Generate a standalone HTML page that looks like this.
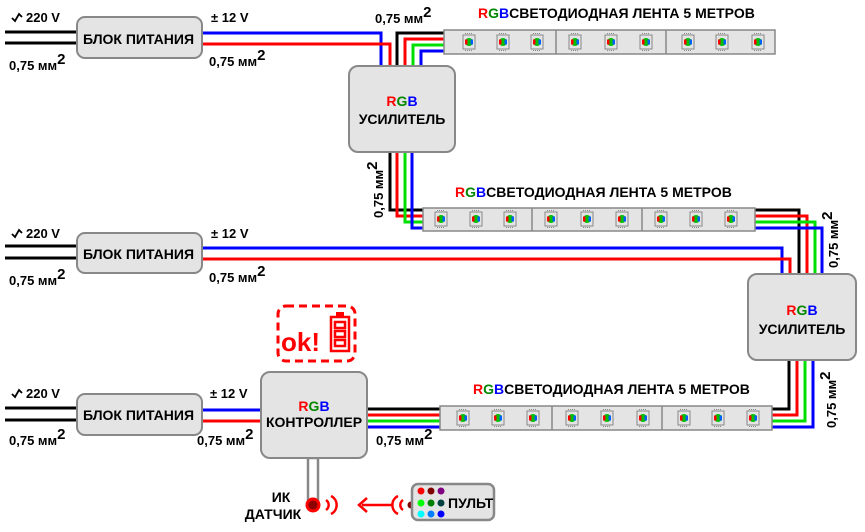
<!DOCTYPE html>
<html><head><meta charset="utf-8"><style>
html,body{margin:0;padding:0;background:#fff;width:865px;height:532px;overflow:hidden}
svg{display:block}
text{font-family:"Liberation Sans","DejaVu Sans",sans-serif;font-weight:bold;fill:#000}
</style></head><body>
<svg width="865" height="532" viewBox="0 0 865 532" xmlns="http://www.w3.org/2000/svg">
<defs>
<g id="led">
 <rect x="-6" y="-7" width="12" height="14" fill="#e4e4e4" stroke="#888" stroke-width="1"/>
 <line x1="-4" y1="-8.5" x2="4" y2="-8.5" stroke="#888" stroke-dasharray="1,1"/>
 <line x1="-4" y1="8.5" x2="4" y2="8.5" stroke="#888" stroke-dasharray="1,1"/>
 <circle cx="0" cy="0" r="4" fill="#00c000"/>
 <rect x="-4" y="-2.5" width="2.5" height="5" fill="#ff0000"/>
 <rect x="1.5" y="-2.5" width="2.5" height="5" fill="#0060ff"/>
</g>
<path id="sine" d="M0,6 L3,9 L7,2 L10,5" fill="none" stroke="#000" stroke-width="1.8"/>
</defs>

<g fill="none" stroke-width="3">
<line x1="5" y1="32" x2="77" y2="32" stroke="#000"/>
<line x1="5" y1="43" x2="77" y2="43" stroke="#000"/>
<polyline points="202,33 381,33 381,66" stroke="#0000ff"/>
<polyline points="202,44 390,44 390,66" stroke="#ff0000"/>
<polyline points="397,66 397,33 445,33" stroke="#000"/>
<polyline points="405,66 405,39 445,39" stroke="#ff0000"/>
<polyline points="413,66 413,45 445,45" stroke="#00e000"/>
<polyline points="421,66 421,51 445,51" stroke="#0000ff"/>
<polyline points="390,152 390,210 424,210" stroke="#000"/>
<polyline points="397,152 397,216 424,216" stroke="#ff0000"/>
<polyline points="405,152 405,222 424,222" stroke="#00e000"/>
<polyline points="412,152 412,228 424,228" stroke="#0000ff"/>
<polyline points="755,210 799,210 799,274" stroke="#000"/>
<polyline points="755,216 807,216 807,274" stroke="#ff0000"/>
<polyline points="755,222 815,222 815,274" stroke="#00e000"/>
<polyline points="755,228 822,228 822,274" stroke="#0000ff"/>
<line x1="5" y1="246" x2="77" y2="246" stroke="#000"/>
<line x1="5" y1="258" x2="77" y2="258" stroke="#000"/>
<polyline points="202,248 782,248 782,274" stroke="#0000ff"/>
<polyline points="202,259 790,259 790,274" stroke="#ff0000"/>
<polyline points="789,360 789,409 771,409" stroke="#000"/>
<polyline points="797,360 797,415 771,415" stroke="#ff0000"/>
<polyline points="805,360 805,421 771,421" stroke="#00e000"/>
<polyline points="813,360 813,427 771,427" stroke="#0000ff"/>
<line x1="367" y1="409" x2="441" y2="409" stroke="#000"/>
<line x1="367" y1="415" x2="441" y2="415" stroke="#ff0000"/>
<line x1="367" y1="421" x2="441" y2="421" stroke="#00e000"/>
<line x1="367" y1="427" x2="441" y2="427" stroke="#0000ff"/>
<line x1="5" y1="408" x2="77" y2="408" stroke="#000"/>
<line x1="5" y1="420" x2="77" y2="420" stroke="#000"/>
<line x1="202" y1="410" x2="262" y2="410" stroke="#0000ff"/>
<line x1="202" y1="421" x2="262" y2="421" stroke="#ff0000"/>
</g>

<rect x="308" y="458" width="10" height="42" fill="#fff" stroke="#888" stroke-width="2.5"/>

<g fill="#e4e4e4" stroke="#888" stroke-width="2">
<rect x="77" y="17" width="125" height="41" rx="8"/>
<rect x="77" y="233" width="125" height="40" rx="8"/>
<rect x="77" y="394" width="125" height="41" rx="8"/>
<rect x="349" y="66" width="106" height="86" rx="9"/>
<rect x="748" y="274" width="108" height="86" rx="9"/>
<rect x="261" y="372" width="106" height="86" rx="9"/>
</g>

<g fill="#e4e4e4" stroke="#888" stroke-width="1.5">
<rect x="444" y="30" width="331" height="24"/>
<rect x="423" y="208" width="332" height="23"/>
<rect x="440" y="406" width="332" height="24"/>
</g>
<g stroke="#888" stroke-width="1.5">
<line x1="556" y1="30" x2="556" y2="54"/><line x1="666" y1="30" x2="666" y2="54"/>
<line x1="532" y1="208" x2="532" y2="231"/><line x1="642" y1="208" x2="642" y2="231"/>
<line x1="552" y1="406" x2="552" y2="430"/><line x1="662" y1="406" x2="662" y2="430"/>
</g>
<use href="#led" x="469" y="42"/><use href="#led" x="503" y="42"/><use href="#led" x="537" y="42"/>
<use href="#led" x="575" y="42"/><use href="#led" x="611" y="42"/><use href="#led" x="646" y="42"/>
<use href="#led" x="688" y="42"/><use href="#led" x="722" y="42"/><use href="#led" x="758" y="42"/>
<use href="#led" x="441" y="219"/><use href="#led" x="476" y="219"/><use href="#led" x="510" y="219"/>
<use href="#led" x="551" y="219"/><use href="#led" x="587" y="219"/><use href="#led" x="622" y="219"/>
<use href="#led" x="661" y="219"/><use href="#led" x="696" y="219"/><use href="#led" x="731" y="219"/>
<use href="#led" x="463" y="418"/><use href="#led" x="498" y="418"/><use href="#led" x="533" y="418"/>
<use href="#led" x="572" y="418"/><use href="#led" x="607" y="418"/><use href="#led" x="643" y="418"/>
<use href="#led" x="684" y="418"/><use href="#led" x="718" y="418"/><use href="#led" x="753" y="418"/>

<!-- remote -->
<circle cx="411" cy="505" r="3.5" fill="#800000"/>
<rect x="412" y="484" width="82" height="36" rx="6" fill="#e4e4e4" stroke="#888" stroke-width="2.5"/>
<circle cx="421" cy="491" r="3.5" fill="#f00"/><circle cx="431" cy="491" r="3.5" fill="#800000"/><circle cx="441" cy="491" r="3.5" fill="#800080"/>
<circle cx="421" cy="503" r="3.5" fill="#00ff00"/><circle cx="431" cy="503" r="3.5" fill="#008000"/><circle cx="441" cy="503" r="3.5" fill="#004040"/>
<circle cx="421" cy="514" r="3.5" fill="#00ffff"/><circle cx="431" cy="514" r="3.5" fill="#0080ff"/><circle cx="441" cy="514" r="3.5" fill="#0000ff"/>

<g font-size="14">
<text x="83" y="44">БЛОК ПИТАНИЯ</text>
<text x="83" y="259">БЛОК ПИТАНИЯ</text>
<text x="83" y="420">БЛОК ПИТАНИЯ</text>
<text x="402" y="106" text-anchor="middle"><tspan fill="#f00">R</tspan><tspan fill="#080">G</tspan><tspan fill="#00f">B</tspan></text>
<text x="402" y="124" text-anchor="middle">УСИЛИТЕЛЬ</text>
<text x="802" y="315" text-anchor="middle"><tspan fill="#f00">R</tspan><tspan fill="#080">G</tspan><tspan fill="#00f">B</tspan></text>
<text x="802" y="334" text-anchor="middle">УСИЛИТЕЛЬ</text>
<text x="314" y="411" text-anchor="middle"><tspan fill="#f00">R</tspan><tspan fill="#080">G</tspan><tspan fill="#00f">B</tspan></text>
<text x="314" y="427" text-anchor="middle">КОНТРОЛЛЕР</text>
<text x="478" y="18"><tspan fill="#f00">R</tspan><tspan fill="#080">G</tspan><tspan fill="#00f">B</tspan>СВЕТОДИОДНАЯ ЛЕНТА 5 МЕТРОВ</text>
<text x="455" y="197"><tspan fill="#f00">R</tspan><tspan fill="#080">G</tspan><tspan fill="#00f">B</tspan>СВЕТОДИОДНАЯ ЛЕНТА 5 МЕТРОВ</text>
<text x="473" y="394"><tspan fill="#f00">R</tspan><tspan fill="#080">G</tspan><tspan fill="#00f">B</tspan>СВЕТОДИОДНАЯ ЛЕНТА 5 МЕТРОВ</text>
<text x="448" y="508">ПУЛЬТ</text>
<text x="281" y="502" text-anchor="middle">ИК</text>
<text x="273" y="519" text-anchor="middle">ДАТЧИК</text>
</g>
<use href="#sine" x="12" y="12"/><use href="#sine" x="12" y="228"/><use href="#sine" x="12" y="388"/>
<g font-size="13">
<text x="26" y="22">220 V</text>
<text x="26" y="238">220 V</text>
<text x="26" y="398">220 V</text>
<text x="211" y="22">± 12 V</text>
<text x="211" y="238">± 12 V</text>
<text x="210" y="398">± 12 V</text>
<text x="9" y="70">0,75 мм<tspan font-size="15" dy="-6">2</tspan></text>
<text x="9" y="285">0,75 мм<tspan font-size="15" dy="-6">2</tspan></text>
<text x="9" y="445">0,75 мм<tspan font-size="15" dy="-6">2</tspan></text>
<text x="209" y="66">0,75 мм<tspan font-size="15" dy="-6">2</tspan></text>
<text x="209" y="282">0,75 мм<tspan font-size="15" dy="-6">2</tspan></text>
<text x="197" y="445">0,75 мм<tspan font-size="15" dy="-6">2</tspan></text>
<text x="375" y="23">0,75 мм<tspan font-size="15" dy="-6">2</tspan></text>
<text x="376" y="445">0,75 мм<tspan font-size="15" dy="-6">2</tspan></text>
<text transform="translate(383,218) rotate(-90)">0,75 мм<tspan font-size="15" dy="-6">2</tspan></text>
<text transform="translate(838,268) rotate(-90)">0,75 мм<tspan font-size="15" dy="-6">2</tspan></text>
<text transform="translate(836,428) rotate(-90)">0,75 мм<tspan font-size="15" dy="-6">2</tspan></text>
</g>

<rect x="278" y="306" width="77" height="55" rx="8" fill="none" stroke="#f00" stroke-width="3" stroke-dasharray="8,5"/>
<text x="281" y="351" font-size="26" style="fill:#f00">ok!</text>
<g fill="none" stroke="#f00" stroke-width="2.5">
<rect x="331" y="317" width="18" height="34"/>
<rect x="335" y="322" width="10" height="6"/><rect x="335" y="331" width="10" height="6"/><rect x="335" y="340" width="10" height="6"/>
</g>
<rect x="336" y="312" width="8" height="4" fill="#f00"/>

<circle cx="313" cy="505" r="6" fill="#8b0000" stroke="#f00" stroke-width="3"/>
<g fill="none" stroke="#f00" stroke-width="2.5">
<path d="M326,500 a6,6 0 0 1 0,10"/><path d="M331,496 a10,10 0 0 1 0,18"/>
<path d="M403,500 a6,6 0 0 0 0,10"/><path d="M398,496 a10,10 0 0 0 0,18"/>
</g>
<line x1="362" y1="505" x2="392" y2="505" stroke="#f00" stroke-width="2.5"/>
<polyline points="367,498 359,505 367,512" fill="none" stroke="#f00" stroke-width="2.5"/>
</svg>
</body></html>
